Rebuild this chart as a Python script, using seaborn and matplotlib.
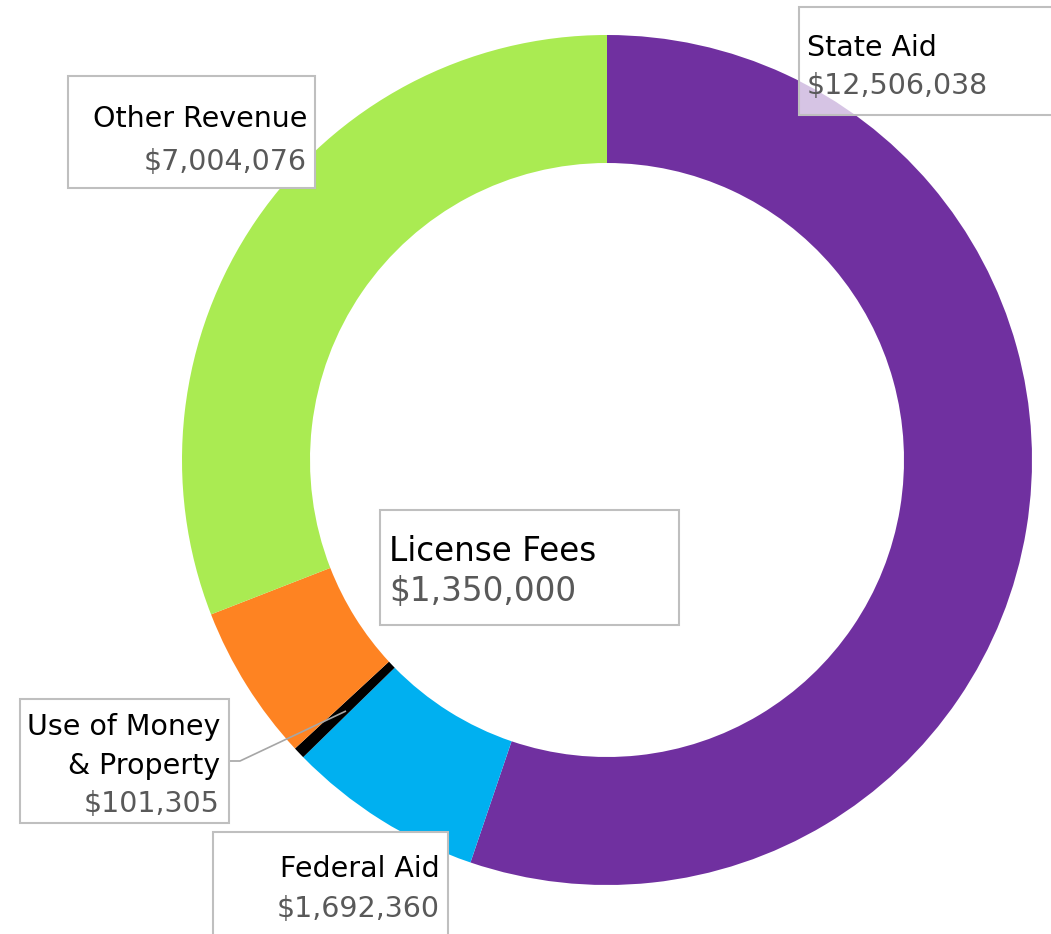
import matplotlib
matplotlib.use("Agg")
import matplotlib.pyplot as plt
import seaborn as sns
from matplotlib.patches import Rectangle

# Revenue sources, clockwise from the top
labels = ["State Aid", "Federal Aid", "Use of Money\n& Property", "License Fees", "Other Revenue"]
values = [12506038, 1692360, 101305, 1350000, 7004076]
colors = ["#7030A0", "#00B0F0", "#000000", "#FE8322", "#AAEB52"]

sns.set_theme(style="white")
plt.rcParams["font.family"] = ["DejaVu Sans"]

W, H = 1051, 934
fig = plt.figure(figsize=(W / 100, H / 100), dpi=100)
ax = fig.add_axes([0, 0, 1, 1])

ax.pie(values, colors=colors, startangle=90, counterclock=False,
       center=(607, H - 460), radius=425,
       wedgeprops=dict(width=128, linewidth=0))
ax.set_xlim(0, W)
ax.set_ylim(0, H)
ax.set_aspect("equal")
ax.axis("off")


def fmt(v):
    return f"${v:,.0f}"


def label_box(x0, y0, x1, y1, tx, ty, name, value, ha, size=20.5, gap=38, alpha=1.0):
    ax.add_patch(Rectangle((x0, H - y1), x1 - x0, y1 - y0, facecolor=(1, 1, 1, alpha),
                           edgecolor="#BFBFBF", linewidth=1.5, zorder=5,
                           clip_on=False))
    lines = name.split("\n")
    for i, line in enumerate(lines):
        ax.text(tx, H - (ty + i * gap), line, ha=ha, va="baseline",
                fontsize=size, color="black", zorder=6)
    ax.text(tx, H - (ty + len(lines) * gap), fmt(value), ha=ha, va="baseline",
            fontsize=size, color="#595959", zorder=6)


label_box(799, 7, 1060, 115, 807, 56, labels[0], values[0], "left", alpha=0.72)
label_box(68, 76, 315, 188, 307, 127, labels[4], values[4], "right", gap=43)
label_box(380, 510, 679, 625, 389, 561, labels[3], values[3], "left", size=23.5, gap=40)
label_box(20, 699, 229, 823, 220, 735, labels[2], values[2], "right", gap=38.5)
label_box(213, 832, 448, 960, 440, 877, labels[1], values[1], "right", gap=40)

# leader line for the small slice
ax.plot([229, 240, 346], [H - 761, H - 761, H - 711], color="#A6A6A6",
        linewidth=1.2, zorder=4, solid_capstyle="butt")

fig.savefig("out.png", dpi=100)
